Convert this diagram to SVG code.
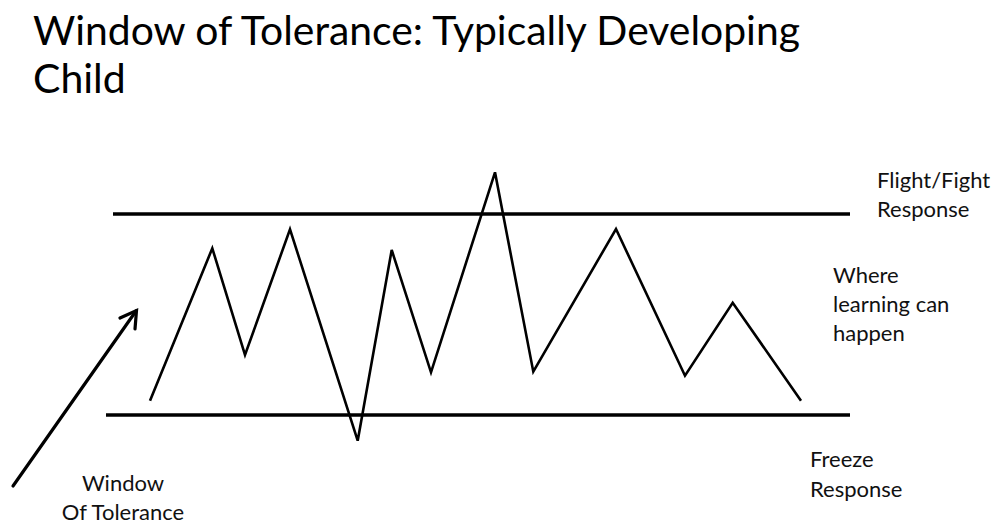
<svg xmlns="http://www.w3.org/2000/svg" width="994" height="524" viewBox="0 0 994 524">
<style>
  .title { font-family: Lato, "Open Sans", sans-serif; font-size: 41px; font-weight: 400; fill: #000; }
  .lbl { font-family: Lato, "Open Sans", sans-serif; font-size: 22px; fill: #111; }
  .bound { stroke: #000; stroke-width: 3.5; fill: none; }
  .wave { stroke: #000; stroke-width: 2.6; fill: none; stroke-linejoin: miter; }
  .arrow { stroke: #000; stroke-width: 3.2; fill: none; stroke-linecap: round; }
</style>
<rect width="994" height="524" fill="#fff"/>
<g id="title">
  <text class="title" x="33" y="45" textLength="767" lengthAdjust="spacingAndGlyphs">Window of Tolerance: Typically Developing</text>
  <text class="title" x="33" y="93">Child</text>
</g>
<g id="connectors">
  <line id="upper-threshold" class="bound" x1="113" y1="214" x2="850" y2="214"/>
  <line id="lower-threshold" class="bound" x1="106" y1="415" x2="850" y2="415"/>
  <polyline id="arousal-wave" class="wave" points="150,400.7 212.3,248.3 245,355 290,229.3 357.7,440.7 391.7,250 431,372.3 495,172.3 533.3,371.7 616,229 685,375.7 732.7,302.7 801,400.7"/>
  <g id="window-arrow">
    <line class="arrow" x1="13" y1="486" x2="136" y2="311"/>
    <polyline class="arrow" points="120,318 136.5,310.5 135,329"/>
  </g>
</g>
<g id="flight-fight-label">
  <text class="lbl" x="877" y="188">Flight/Fight</text>
  <text class="lbl" x="877" y="217">Response</text>
</g>
<g id="learning-label">
  <text class="lbl" x="833" y="283">Where</text>
  <text class="lbl" x="833" y="312">learning can</text>
  <text class="lbl" x="833" y="341">happen</text>
</g>
<g id="freeze-label">
  <text class="lbl" x="810" y="467">Freeze</text>
  <text class="lbl" x="810" y="497">Response</text>
</g>
<g id="window-label">
  <text class="lbl" x="123" y="491" text-anchor="middle">Window</text>
  <text class="lbl" x="123" y="520" text-anchor="middle">Of Tolerance</text>
</g>
</svg>
